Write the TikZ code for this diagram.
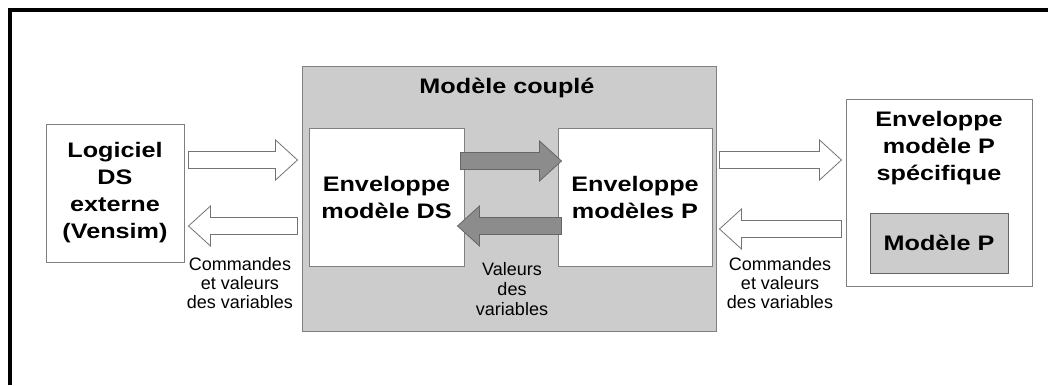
\documentclass[tikz,border=0pt]{standalone}
\usepackage{fontspec}
\setmainfont{Liberation Sans}
\newfontfamily\boxfont[FakeStretch=1.2]{Liberation Sans}
\usetikzlibrary{calc}

\begin{document}
\begin{tikzpicture}[x=1pt,y=-1pt]
  \tikzstyle{every node}=[inner sep=0pt,align=center]
  \tikzstyle{box}=[draw=black!50,line width=1pt,fill=white,font=\boxfont\bfseries\fontsize{21}{27}\selectfont]
  \tikzstyle{heading}=[font=\boxfont\bfseries\fontsize{21}{27}\selectfont]
  \tikzstyle{note}=[font=\fontsize{18}{19}\selectfont]
  \tikzstyle{hollow}=[draw=black!55,fill=white,line width=0.8pt,line join=miter]
  \tikzstyle{darkarrow}=[draw=black!60,fill=black!45,line width=0.8pt,line join=miter]
  \newcommand{\fatarrow}[4]{% style, tail, tip, height of the axis
    \draw[#1] let \p1=(#2), \p2=(#3), \p3=(0,#4), \p4=($(#3)!22pt!(#2)$) in
      (\x1,\y3+8.5pt) -- (\x4,\y3+8.5pt) -- (\x4,\y3+20pt) -- (\x2,\y3)
      -- (\x4,\y3-20pt) -- (\x4,\y3-8.5pt) -- (\x1,\y3-8.5pt) -- cycle;}
  \useasboundingbox (0,0) rectangle (1048,385);
  \draw[line width=4pt,line join=miter] (10,385) -- (10,10) -- (1048,10);
% external software
  \node[box,minimum width=138pt,minimum height=138pt] (logiciel) at (115,193) {Logiciel\\DS\\externe\\(Vensim)};
% coupled model
  \node[draw=black!50,line width=1pt,fill=black!20,minimum width=414pt,minimum height=264pt] (couple) at (509,199) {};
  \node[heading] (titre) at (507,88) {Modèle couplé};
  \node[box,minimum width=155pt,minimum height=138pt] (envDS) at (386.5,197) {Enveloppe\\modèle DS};
  \node[box,minimum width=154pt,minimum height=138pt] (envP)  at (635,197)   {Enveloppe\\modèles P};
% specific P model
  \node[box,minimum width=186pt,minimum height=186pt] (spec) at (939,193) {};
  \node[heading] (spectxt) at (939,148) {Enveloppe\\modèle P\\spécifique};
  \node[box,draw=black!60,fill=black!20,minimum width=138pt,minimum height=60pt] (modeleP) at (939,243) {Modèle P};
% exchanges
  \fatarrow{hollow}{$(logiciel.east)+(4,0)$}{$(couple.west)+(-4,0)$}{160}
  \fatarrow{hollow}{$(couple.west)+(-4,0)$}{$(logiciel.east)+(4,0)$}{226}
  \fatarrow{darkarrow}{$(envDS.east)+(-4,0)$}{$(envP.west)+(4,0)$}{161}
  \fatarrow{darkarrow}{$(envP.west)+(4,0)$}{$(envDS.east)+(-7,0)$}{226}
  \fatarrow{hollow}{$(couple.east)+(3,0)$}{$(spec.west)+(-4,0)$}{160}
  \fatarrow{hollow}{$(spec.west)+(-4,0)$}{$(couple.east)+(3,0)$}{229}
  \node[note] (cmdDS) at (240,283) {Commandes\\et valeurs\\des variables};
  \node[note,font=\fontsize{18}{20}\selectfont] (valeurs) at (512,289) {Valeurs\\des\\variables};
  \node[note] (cmdP) at (780,283) {Commandes\\et valeurs\\des variables};
\end{tikzpicture}
\end{document}
